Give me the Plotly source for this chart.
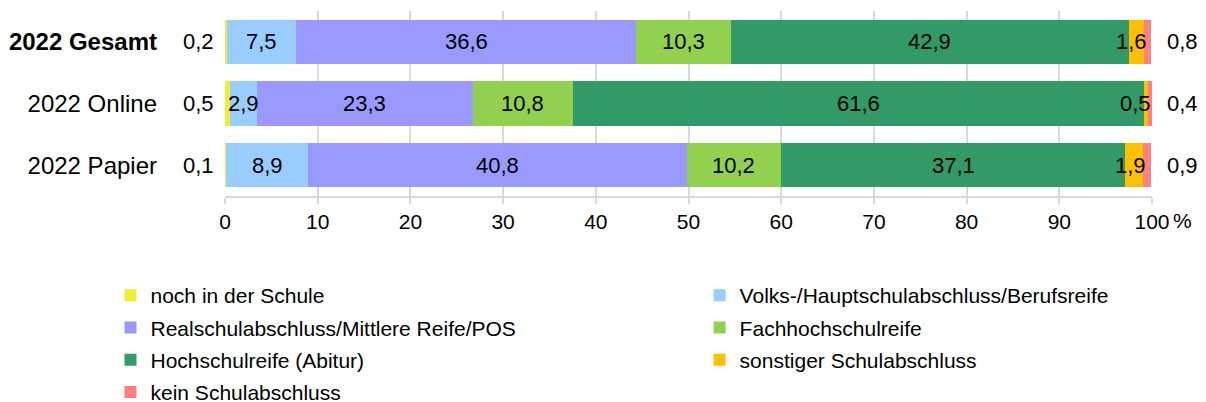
import plotly.graph_objects as go
import numpy as np

categories = ["2022 Gesamt", "2022 Online", "2022 Papier"]
tick_labels = ["<b>2022 Gesamt</b>", "2022 Online", "2022 Papier"]
series_names = [
    "noch in der Schule",
    "Volks-/Hauptschulabschluss/Berufsreife",
    "Realschulabschluss/Mittlere Reife/POS",
    "Fachhochschulreife",
    "Hochschulreife (Abitur)",
    "sonstiger Schulabschluss",
    "kein Schulabschluss",
]
noch_in_der_schule = [0.2, 0.5, 0.1]
volks_hauptschule = [7.5, 2.9, 8.9]
realschule = [36.6, 23.3, 40.8]
fachhochschulreife = [10.3, 10.8, 10.2]
hochschulreife = [42.9, 61.6, 37.1]
sonstiger = [1.6, 0.5, 1.9]
kein_abschluss = [0.8, 0.4, 0.9]
colors = ["#EEEE33", "#99CCFF", "#9999FF", "#92D050", "#339966", "#FFC000", "#FF8080"]
legend_column = ["legend", "legend2", "legend", "legend2", "legend", "legend2", "legend"]

series = [noch_in_der_schule, volks_hauptschule, realschule, fachhochschulreife,
          hochschulreife, sonstiger, kein_abschluss]

FONT = "Liberation Sans, Arial, sans-serif"
fig = go.Figure()
for i, (name, vals, col) in enumerate(zip(series_names, series, colors)):
    fig.add_trace(go.Bar(
        y=categories, x=vals, name=name, orientation="h",
        marker=dict(color=col, line=dict(width=0)),
        hoverinfo="x+name", legend=legend_column[i], legendgroup=f"g{i}",
    ))

def fmt(v):
    return f"{v:.1f}".replace(".", ",")

annotations = []
cum = np.zeros(len(categories))
for si, vals in enumerate(series):
    vals = np.array(vals)
    for ci, cat in enumerate(categories):
        start = cum[ci]
        end = start + vals[ci]
        if si == 0:
            annotations.append(dict(x=-0.029, xref="paper", y=cat, yref="y",
                                    text=fmt(vals[ci]), showarrow=False, xanchor="center"))
        elif si == len(series) - 1:
            annotations.append(dict(x=1.033, xref="paper", y=cat, yref="y",
                                    text=fmt(vals[ci]), showarrow=False, xanchor="center"))
        elif si == 5:
            annotations.append(dict(x=end, xref="x", y=cat, yref="y",
                                    text=fmt(vals[ci]), showarrow=False, xanchor="right", xshift=5))
        else:
            annotations.append(dict(x=(start + end) / 2, xref="x", y=cat, yref="y",
                                    text=fmt(vals[ci]), showarrow=False, xanchor="center"))
    cum += vals

annotations.append(dict(x=1.033, xref="paper", y=-0.135, yref="paper", text="%",
                        showarrow=False, xanchor="center", yanchor="middle",
                        font=dict(size=21)))

legend_common = dict(orientation="v", xanchor="left", yanchor="top",
                     font=dict(size=21), itemwidth=30, tracegroupgap=2,
                     bgcolor="rgba(0,0,0,0)", traceorder="grouped")
fig.update_layout(
    barmode="stack",
    bargap=0.285,
    width=1206, height=402,
    margin=dict(l=217, r=62, t=3, b=214, autoexpand=False),
    paper_bgcolor="white", plot_bgcolor="white",
    font=dict(family=FONT, size=22, color="black"),
    separators=",.",
    showlegend=True,
    legend=dict(x=-0.1235, y=-0.427, **legend_common),
    legend2=dict(x=0.512, y=-0.427, **legend_common),
    annotations=annotations,
)
fig.update_xaxes(range=[0, 100], dtick=10, showgrid=True, gridcolor="#D9D9D9", gridwidth=2,
                 showline=True, linecolor="#D9D9D9", linewidth=2, ticks="outside",
                 tickcolor="#D9D9D9", ticklen=6, tickwidth=2, zeroline=False,
                 tickfont=dict(size=21), fixedrange=True)
fig.update_yaxes(categoryorder="array", categoryarray=categories, autorange="reversed",
                 tickvals=categories, ticktext=tick_labels, ticklabelstandoff=67,
                 showgrid=False, zeroline=False, showline=False, tickfont=dict(size=24),
                 fixedrange=True)

fig.write_html("out.html")
